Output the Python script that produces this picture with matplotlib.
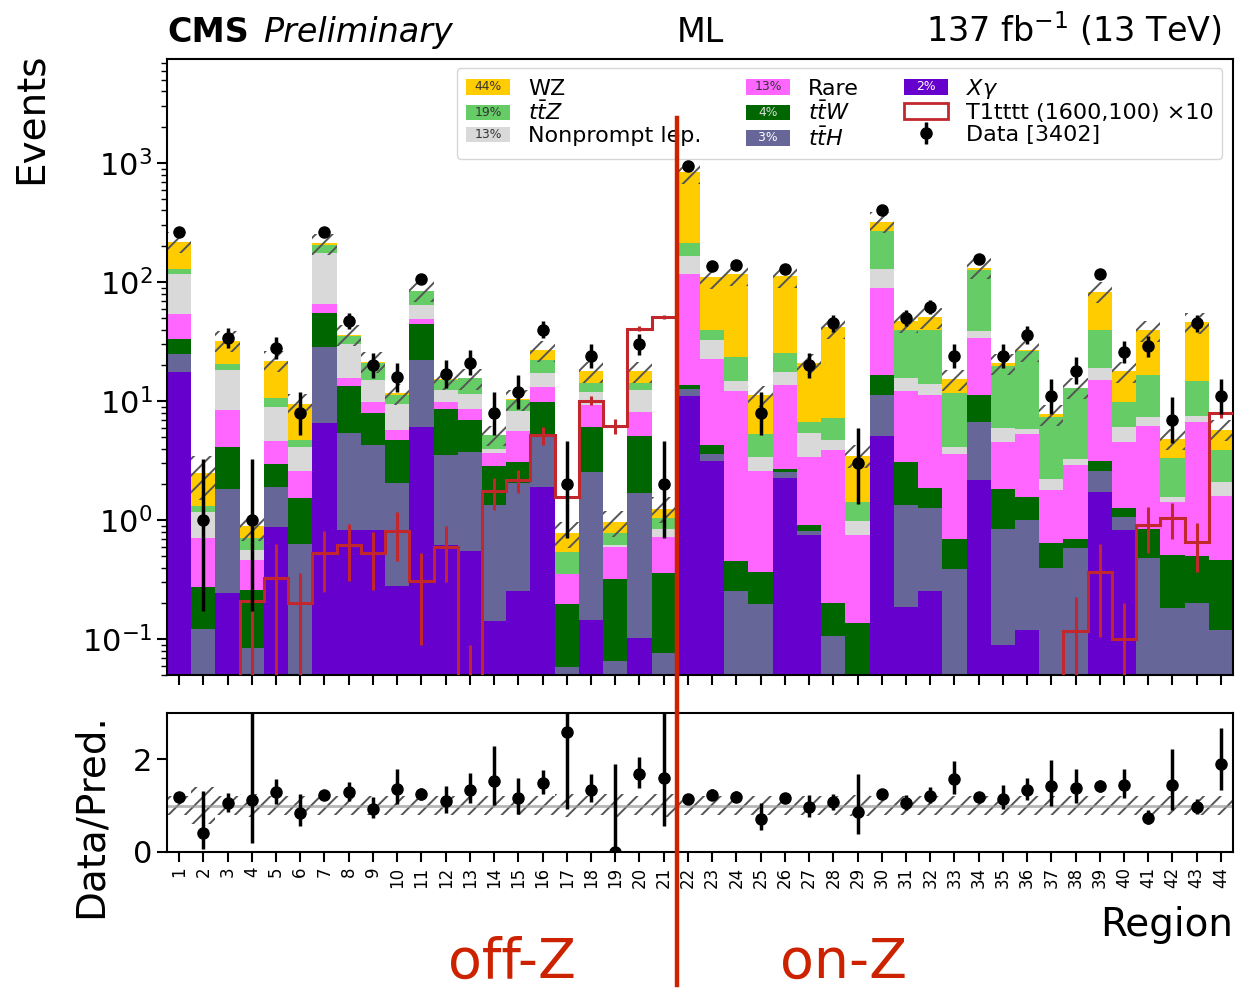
"""
Event yields per signal region, stacked backgrounds + T1tttt signal + data,
with a data/prediction ratio panel underneath.
"""

import numpy as np
import matplotlib

matplotlib.use("Agg")
import matplotlib.pyplot as plt
import matplotlib.transforms as mtransforms
from matplotlib.patches import Patch, Rectangle
from matplotlib.text import Text
from matplotlib.lines import Line2D
from matplotlib.legend_handler import HandlerBase

regions = np.arange(1, 45)

# background yields per region (stacked bottom -> top)
xgamma = [17.7, 0, 0.242, 0, 0.871, 0, 6.58, 0.828, 0.828, 0.281, 6.08, 0.617, 0.551, 0.141, 0.252,
          1.90, 0, 0.146, 0, 0.102, 0, 10.96, 3.12, 0, 0, 2.28, 0.75, 0, 0, 5.07, 0.187, 0.255,
          0, 2.16, 0.0895, 0.119, 0, 0, 1.73, 0.828, 0, 0, 0, 0]
tth = [7.1, 0.122, 1.60, 0.085, 1.04, 0.632, 22.1, 4.61, 3.47, 1.79, 16.3, 2.91, 3.22, 1.21, 1.82,
       3.17, 0.058, 2.40, 0.066, 1.60, 0.077, 1.74, 0.48, 0.255, 0.199, 0.28, 0.067, 0.107, 0, 6.23,
       1.16, 1.0, 0.39, 4.55, 0.754, 0.88, 0.397, 0.585, 0.87, 0.23, 0.481, 0.184, 0.2, 0.119]
ttw = [8.5, 0.153, 2.29, 0.175, 1.07, 0.89, 26.4, 7.86, 3.70, 2.67, 21.8, 5.02, 3.16, 1.52, 0.99,
       4.68, 0.138, 3.53, 0.255, 3.37, 0.281, 1.1, 0.70, 0.198, 0.166, 0.13, 0.095, 0.096, 0.137, 5.4,
       1.71, 0.62, 0.303, 4.59, 0.967, 0.56, 0.24, 0.108, 0.52, 0.21, 0.362, 0.323, 0.297, 0.34]
rare = [21.2, 0.436, 4.31, 0.199, 1.64, 1.08, 10.7, 2.3, 1.93, 1.03, 5.1, 1.2, 1.62, 0.78, 2.53,
        3.45, 0.157, 3.23, 0.276, 3.10, 0.368, 104.2, 18.2, 11.65, 2.235, 11.1, 2.47, 3.72, 0.613, 72.2,
        9.04, 9.43, 2.91, 22.4, 2.72, 3.71, 1.17, 2.23, 11.8, 3.26, 5.33, 0.91, 6.21, 1.13]
nonprompt = [63.5, 0.47, 9.96, 0.107, 4.38, 1.53, 111.2, 14.6, 5.27, 3.66, 15.6, 2.75, 2.95, 0.32, 2.74,
             4.1, 0, 2.59, 0.027, 4.33, 0.117, 49, 10.4, 2.8, 0.78, 3.9, 2.03, 0.76, 0.225, 41.1,
             3.6, 2.7, 0.51, 5.0, 1.47, 0.62, 0.40, 0.35, 4.2, 1.55, 1.23, 0.15, 0.84, 0.51]
ttz = [12, 0.13, 2.0, 0.137, 1.6, 0.61, 28, 4.9, 5.6, 1.77, 19.5, 2.7, 4.0, 1.2, 1.97,
       4.8, 0.188, 2.2, 0.151, 1.7, 0.197, 45, 6.4, 8.6, 1.96, 7.5, 1.3, 2.49, 0.435, 140,
       23.6, 25.7, 7.59, 88.3, 13.7, 20.3, 5.19, 9.63, 20.2, 3.85, 9.3, 1.76, 7.15, 1.75]
wz = [89, 1.17, 11.9, 0.192, 11.2, 4.76, 7, 1.2, 0.7, 0.5, 0.6, 0.3, 0.1, 0.03, 0.05,
      4.8, 0.234, 3.8, 0.187, 3.7, 0.21, 626, 70.7, 93.5, 5.86, 86.8, 14.1, 34.7, 2.08, 52,
      7.8, 11.2, 3.5, 5, 1.1, 0.7, 0.34, 0.05, 43.9, 7.97, 22.6, 1.51, 31.5, 1.92]

# relative systematic uncertainty on the total prediction
rel_unc = [0.2, 0.4, 0.2, 0.25, 0.2, 0.2, 0.2, 0.2, 0.2, 0.2, 0.2, 0.2, 0.2, 0.2, 0.2,
           0.2, 0.25, 0.2, 0.25, 0.2, 0.25, 0.2, 0.2, 0.2, 0.2, 0.2, 0.2, 0.2, 0.22, 0.2,
           0.2, 0.2, 0.2, 0.2, 0.2, 0.2, 0.2, 0.2, 0.2, 0.2, 0.2, 0.2, 0.2, 0.2]

data = [262, 1, 34, 1, 28, 8, 262, 47, 20, 16, 106, 17, 21, 8, 12, 40, 2, 24, 0, 30, 2,
        955, 136, 140, 8, 130, 20, 45, 3, 405, 50, 62, 24, 158, 24, 36, 11, 18, 118, 26, 29, 7, 45, 11]

# T1tttt (1600,100) x10
signal = [0, 0, 0, 0.21, 0.325, 0.203, 0.53, 0.62, 0.53, 0.81, 0.31, 0.60, 0.03, 1.75, 2.16,
          5.17, 1.57, 10.1, 6.2, 40.6, 50.9, 0, 0, 0, 0, 0, 0, 0, 0, 0,
          0, 0, 0, 0, 0, 0, 0, 0.116, 0.365, 0.10, 0.91, 1.05, 0.66, 8.0]
signal_err = [0, 0, 0, 0.18, 0.31, 0.16, 0.28, 0.31, 0.27, 0.36, 0.22, 0.30, 0.06, 0.53, 0.47,
              0.9, 0.4, 0.85, 0.9, 2.0, 2.0, 0, 0, 0, 0, 0, 0, 0, 0, 0,
              0, 0, 0, 0, 0, 0, 0, 0.11, 0.26, 0.10, 0.38, 0.35, 0.29, 0.8]

# label, yields, colour, legend percentage, percentage text colour  (bottom -> top)
stack = [
    (r"$X\gamma$", xgamma, "#6600cc", "2%", "white"),
    (r"$t\bar{t}H$", tth, "#666699", "3%", "white"),
    (r"$t\bar{t}W$", ttw, "#006600", "4%", "#dddddd"),
    ("Rare", rare, "#ff66ff", "13%", "#333333"),
    ("Nonprompt lep.", nonprompt, "#d9d9d9", "13%", "#333333"),
    (r"$t\bar{t}Z$", ttz, "#66cc66", "19%", "#333333"),
    ("WZ", wz, "#ffcc00", "44%", "#333333"),
]

SIG_COLOR = "#c1272d"
SPLIT_COLOR = "#cc2200"
HATCH_COLOR = "#555555"


class PctHandler(HandlerBase):
    """Legend box with the process fraction written inside."""

    def __init__(self, pct, txtcolor):
        super().__init__()
        self.pct = pct
        self.txtcolor = txtcolor

    def create_artists(self, legend, orig_handle, xdescent, ydescent, width, height, fontsize, trans):
        box = Rectangle((-xdescent, -ydescent), width, height,
                        facecolor=orig_handle.get_facecolor(), edgecolor="none", transform=trans)
        txt = Text(-xdescent + width / 2, -ydescent + height / 2, self.pct,
                   ha="center", va="center", fontsize=fontsize * 0.56,
                   color=self.txtcolor, transform=trans)
        return [box, txt]


def poisson_interval(n):
    # approximate 68% Garwood interval
    n = np.asarray(n, float)
    m = np.maximum(n, 1)
    lo = np.where(n > 0, n * (1 - 1 / (9 * m) - 1 / (3 * np.sqrt(m))) ** 3, 0.0)
    up = (n + 1) * (1 - 1 / (9 * (n + 1)) + 1 / (3 * np.sqrt(n + 1))) ** 3
    return lo, up


plt.rcParams["hatch.linewidth"] = 1.4
plt.rcParams["axes.linewidth"] = 1.5

fig = plt.figure(figsize=(12.38, 9.9), dpi=100)
ax = fig.add_axes([0.1349, 0.3182, 0.8611, 0.6222])
axr = fig.add_axes([0.1349, 0.1394, 0.8611, 0.1404])

# stacked backgrounds
bottom = np.zeros(len(regions))
handles, hmap = {}, {}
for label, vals, color, pct, tcol in stack:
    vals = np.asarray(vals, float)
    ax.bar(regions, vals, width=1.0, bottom=bottom, color=color, linewidth=0, zorder=1)
    bottom = bottom + vals
    proxy = Patch(facecolor=color, label=label)
    handles[label] = proxy
    hmap[proxy] = PctHandler(pct, tcol)
total = bottom
unc = np.asarray(rel_unc)

ax.bar(regions, 2 * unc * total, bottom=total * (1 - unc), width=1.0, fill=False,
       hatch="//", edgecolor=HATCH_COLOR, linewidth=0, zorder=2)

# signal
sig = np.asarray(signal, float)
edges = np.arange(0.5, 45.5, 1.0)
ax.stairs(sig, edges, baseline=None, color=SIG_COLOR, linewidth=2.2, zorder=3)
sm = sig > 0
ax.errorbar(regions[sm], sig[sm], yerr=np.asarray(signal_err)[sm], fmt="none",
            ecolor=SIG_COLOR, elinewidth=2.2, capsize=0, zorder=3)
h_sig = Patch(facecolor="white", edgecolor=SIG_COLOR, linewidth=2, label="T1tttt (1600,100) ×10")

# data
dat = np.asarray(data, float)
lo, up = poisson_interval(dat)
dm = dat > 0
h_data = ax.errorbar(regions[dm], dat[dm], yerr=[(dat - lo)[dm], (up - dat)[dm]], fmt="o",
                     color="black", ms=8, elinewidth=2.5, capsize=0, zorder=5,
                     label="Data [3402]")

ax.set_yscale("log")
ax.set_ylim(0.05, 7500)
ax.set_xlim(0.5, 44.5)
ax.set_xticks(regions)
ax.tick_params(axis="x", which="both", labelbottom=False, length=7, width=1.5)
ax.tick_params(axis="y", which="major", labelsize=22, length=7, width=1.5)
ax.tick_params(axis="y", which="minor", length=4, width=1)
ax.set_ylabel("Events", fontsize=28, loc="top")
ax.yaxis.set_label_coords(-0.110, 1.011)

order = ["WZ", r"$t\bar{t}Z$", "Nonprompt lep.", "Rare", r"$t\bar{t}W$", r"$t\bar{t}H$", r"$X\gamma$"]
leg_handles = [handles[k] for k in order] + [h_sig, h_data]
leg_labels = order + ["T1tttt (1600,100) ×10", "Data [3402]"]
ax.legend(leg_handles, leg_labels, handler_map=hmap, ncol=3, loc="upper right",
          bbox_to_anchor=(0.99, 0.986), borderaxespad=0, fontsize=16, labelspacing=0.1,
          handlelength=2.0, handleheight=0.7, handletextpad=0.8, columnspacing=2.0)

# header
ax.text(0.0, 1.027, "CMS", transform=ax.transAxes, fontsize=24, fontweight="bold", va="baseline")
ax.text(0.09, 1.027, "Preliminary", transform=ax.transAxes, fontsize=24, style="italic", va="baseline")
ax.text(0.5, 1.027, "ML", transform=ax.transAxes, fontsize=24, ha="center", va="baseline")
ax.text(0.989, 1.027, r"137 fb$^{-1}$ (13 TeV)", transform=ax.transAxes, fontsize=24,
        ha="right", va="baseline")

# ratio panel
ratio = dat / total
rlo = (dat - lo) / total
rup = (up - dat) / total
axr.bar(regions, 2 * unc, bottom=1 - unc, width=1.0, fill=False, hatch="//",
        edgecolor=HATCH_COLOR, linewidth=0, zorder=1)
axr.axhline(1.0, color="#999999", linewidth=2, alpha=0.7, zorder=1)
axr.errorbar(regions, ratio, yerr=[rlo, rup], fmt="o", color="black", ms=8,
             elinewidth=2.5, capsize=0, zorder=5)
axr.set_xlim(0.5, 44.5)
axr.set_ylim(0, 3)
axr.set_yticks([0, 2])
axr.set_xticks(regions)
axr.set_xticklabels([str(r) for r in regions], rotation=90, fontsize=12)
axr.tick_params(axis="x", length=7, width=1.5)
axr.tick_params(axis="y", labelsize=22, length=7, width=1.5)
axr.set_ylabel("Data/Pred.", fontsize=28, loc="top")
axr.yaxis.set_label_coords(-0.054, 1.0)
axr.set_xlabel("Region", fontsize=28, loc="right", labelpad=13)

# off-Z / on-Z separator
trans = mtransforms.blended_transform_factory(ax.transData, fig.transFigure)
fig.add_artist(Line2D([21.55, 21.55], [0.881, 0.005], transform=trans,
                      color=SPLIT_COLOR, linewidth=3.2))
fig.text(0.4136, 0.012, "off-Z", fontsize=40, color=SPLIT_COLOR, ha="center", va="baseline")
fig.text(0.681, 0.012, "on-Z", fontsize=40, color=SPLIT_COLOR, ha="center", va="baseline")

fig.savefig("out.png", dpi=100)
